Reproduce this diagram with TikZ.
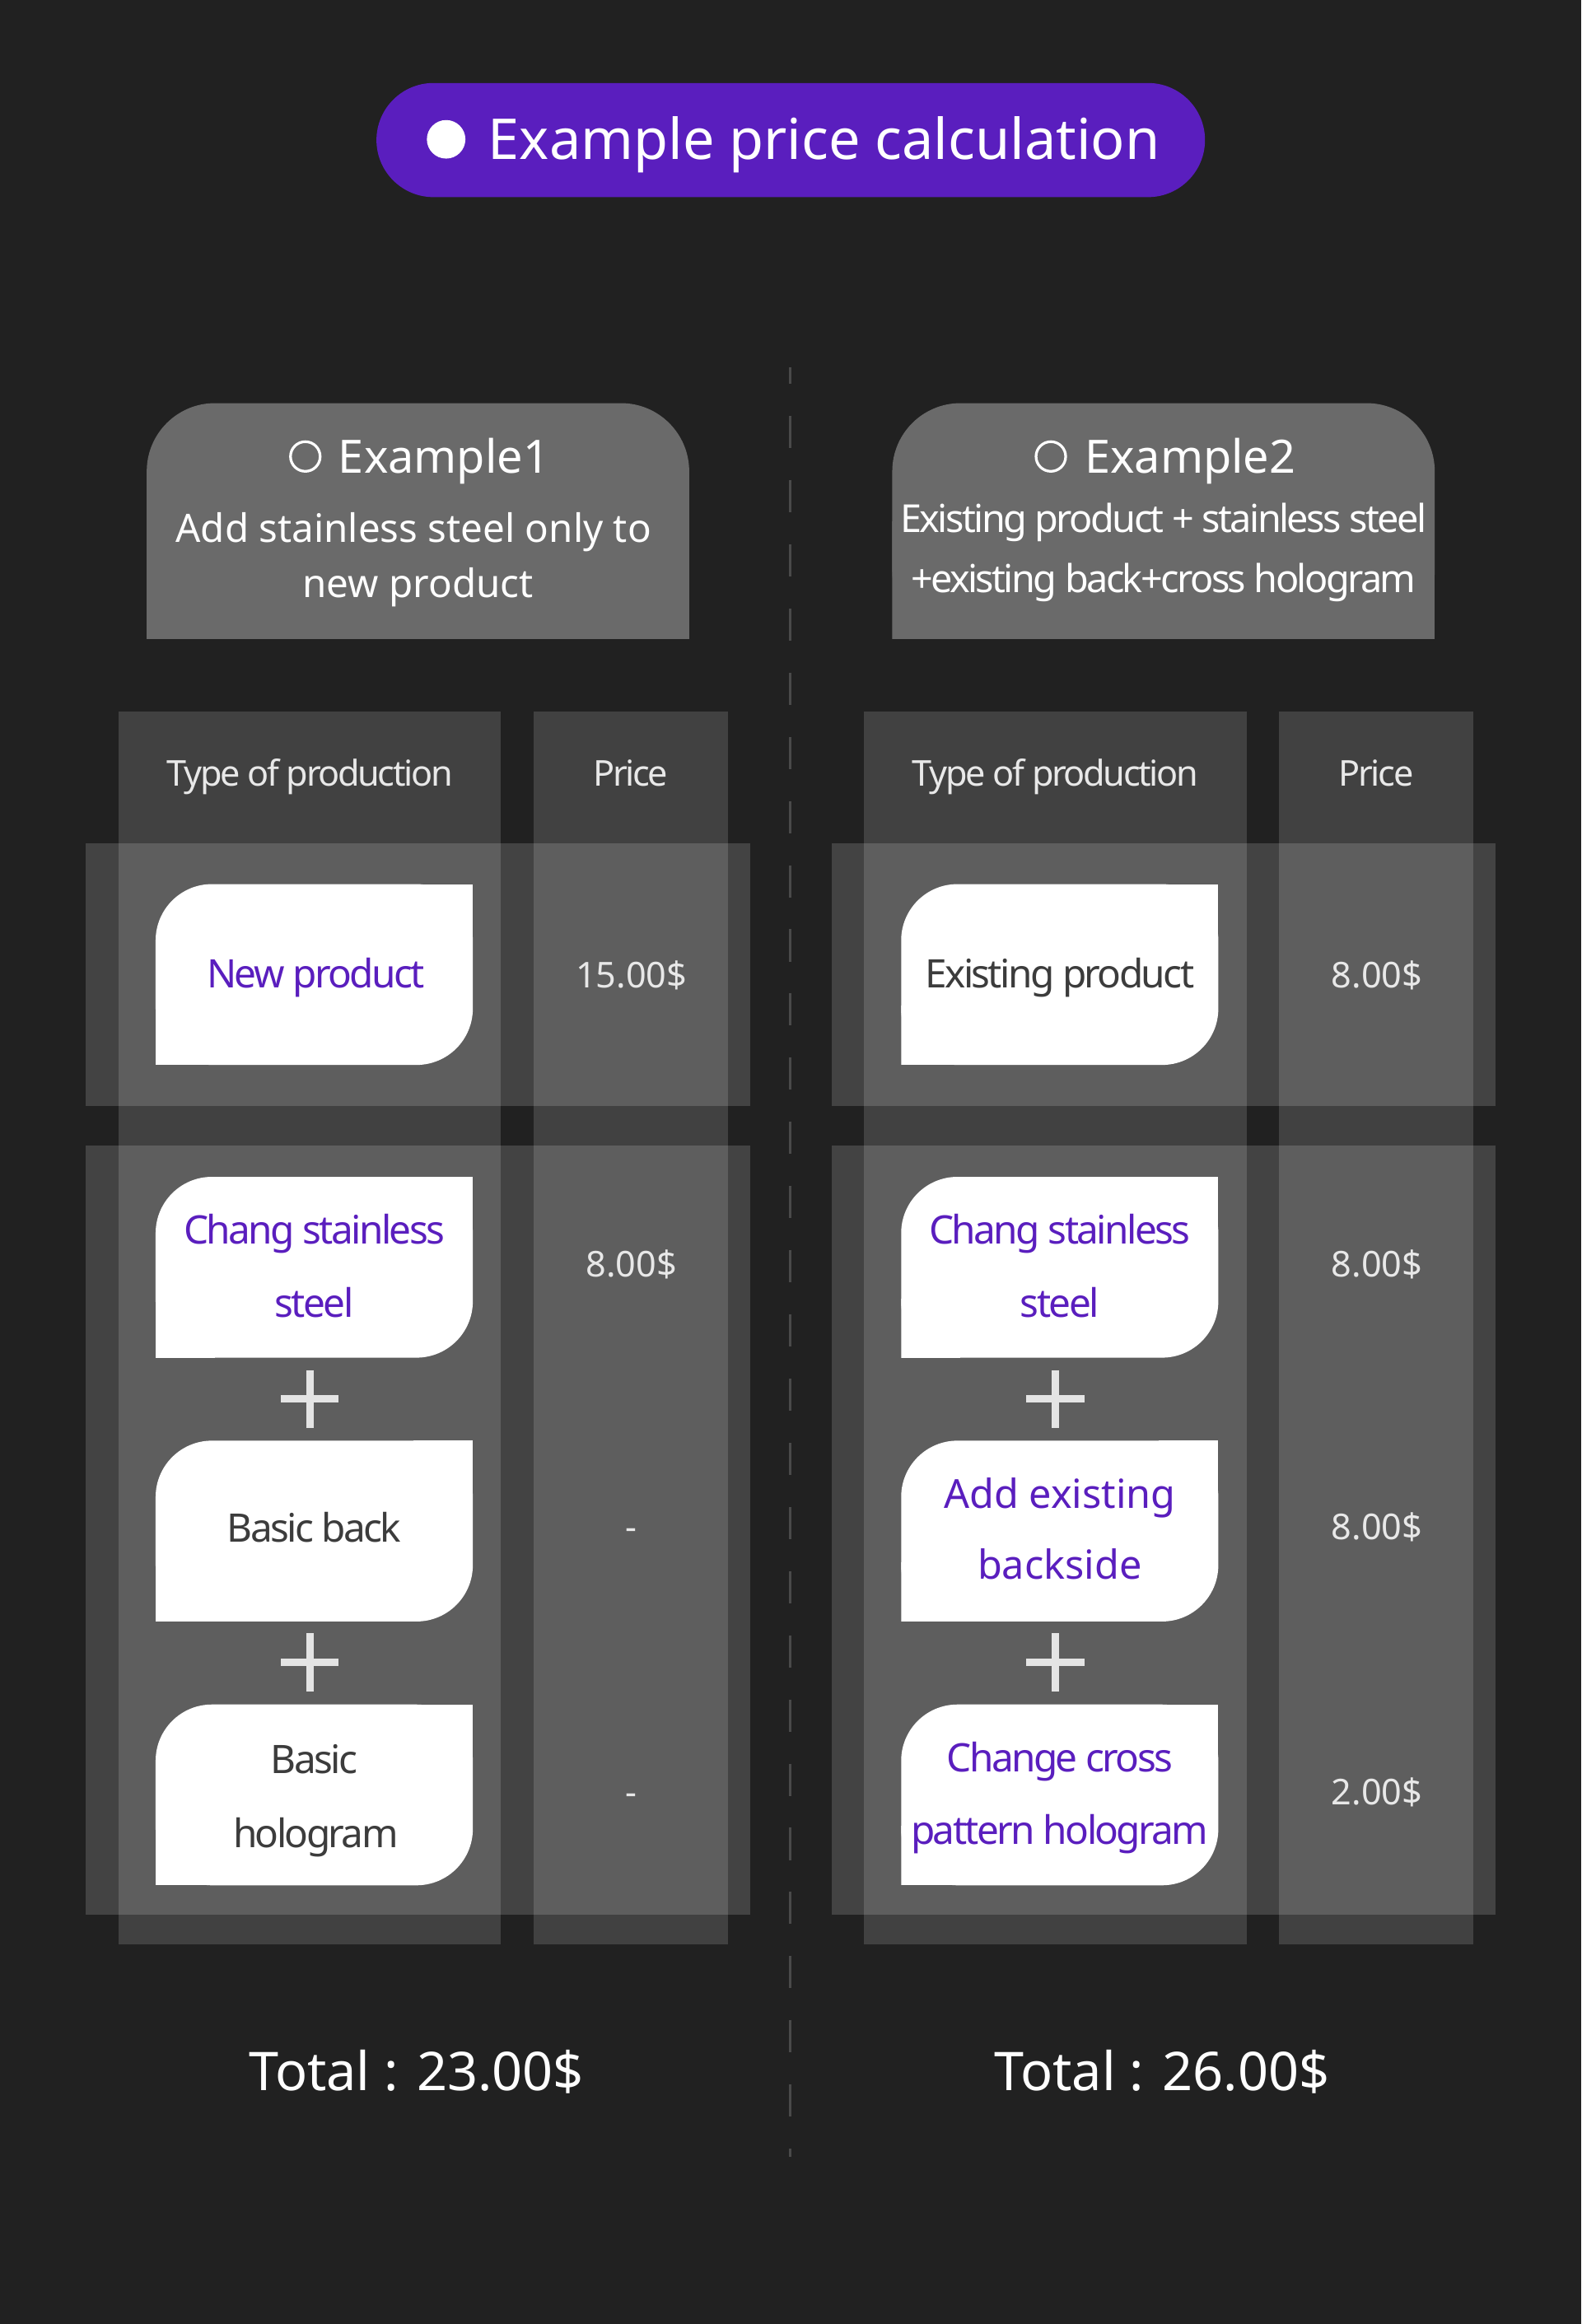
\documentclass[tikz,border=0pt]{standalone}
\usepackage{fontspec}
\setmainfont{Noto Sans}
\newfontfamily\tightf[LetterSpace=-5.5]{Noto Sans}
\definecolor{bg}{HTML}{212121}
\definecolor{pill}{HTML}{5A1EBE}
\definecolor{exgray}{HTML}{6A6A6A}
\definecolor{colgray}{HTML}{414141}
\definecolor{dtext}{HTML}{3C3C3C}
\definecolor{ltext}{HTML}{E8E8E8}
\definecolor{dashc}{HTML}{4A4A4A}
\definecolor{plusc}{HTML}{E4E4E4}
\tikzset{
  wbox/.style={rectangle, inner sep=0pt, minimum width=214pt, minimum height=122pt,
    path picture={
      \fill[white, rounded corners=38pt] (path picture bounding box.south west) rectangle (path picture bounding box.north east);
      \fill[white] (path picture bounding box.north east) rectangle ++(-40pt,-40pt);
      \fill[white] (path picture bounding box.south west) rectangle ++(40pt,40pt);
    }},
  exbox/.style={rectangle, inner sep=0pt, minimum width=366pt, minimum height=159pt,
    path picture={
      \fill[exgray, rounded corners=46pt] (path picture bounding box.south west) rectangle (path picture bounding box.north east);
      \fill[exgray] (path picture bounding box.south west) rectangle (path picture bounding box.east);
    }},
  txt/.style={anchor=base, inner sep=0pt},
  boxtxt/.style={txt, font=\tightf\fontsize{26.5}{30}\selectfont},
  purp/.style={boxtxt, text=pill},
  dark/.style={boxtxt, text=dtext},
  hdr/.style={txt, text=ltext, font=\tightf\fontsize{24}{28}\selectfont},
  price/.style={txt, text=ltext, font=\fontsize{24}{28}\selectfont},
  extxt/.style={txt, text=white, font=\fontsize{26.4}{30}\selectfont},
  extight/.style={txt, text=white, font=\tightf\fontsize{26}{30}\selectfont},
  extitle/.style={txt, text=white, font=\fontsize{31}{36}\selectfont},
  total/.style={txt, text=white, font=\fontsize{36}{40}\selectfont},
  plusmark/.style={plusc, line width=5pt},
  colfill/.style={fill=colgray},
  bandfill/.style={fill=white, opacity=0.155},
}
\begin{document}
\begin{tikzpicture}[x=1pt,y=-1pt]
\fill[bg] (0,0) rectangle (1067,1568);
\useasboundingbox (0,0) rectangle (1067,1568);

% title
\node[fill=pill, rounded corners=38.5pt, minimum width=559pt, minimum height=77pt, inner sep=0pt] (title) at (533.5,94.5) {};
\fill[white] (301,94) circle[radius=13pt];
\node[txt, text=white, font=\fontsize{38}{46}\selectfont] (ttl) at (556,107.5) {Example price calculation};

% divider
\coordinate (dtop) at (533,248);
\coordinate (dbot) at (533,1455);
\draw[dashc, line width=1.6pt, dash pattern=on 21.7pt off 21.6pt, dash phase=10.7pt] (dtop) -- (dbot);

% example boxes
\node[exbox] (ex1) at (282,351.5) {};
\node[exbox] (ex2) at (785,351.5) {};
\draw[white, line width=1.8pt] (206,308) circle[radius=10pt];
\draw[white, line width=1.8pt] (709,308) circle[radius=10pt];
\node[extitle] (ex1t) at (299.5,319) {Example1};
\node[extitle] (ex2t) at (803,319) {Example2};
\node[extxt] (ex1a) at (279,366) {Add stainless steel only to};
\node[extxt] (ex1b) at (282,403) {new product};
\node[extight] (ex2a) at (785,359) {Existing product + stainless steel};
\node[extight] (ex2b) at (785,400) {+existing back+cross hologram};

% columns and bands
\foreach \dx in {0,503}{
  \path[colfill] (80+\dx,480) rectangle (338+\dx,1312);
  \path[colfill] (360+\dx,480) rectangle (491+\dx,1312);
  \path[bandfill] (58+\dx,569) rectangle (506+\dx,746);
  \path[bandfill] (58+\dx,773) rectangle (506+\dx,1292);
}

% headers
\node[hdr] (h1) at (209,530.6) {Type of production};
\node[hdr] (h2) at (425.5,530.6) {Price};
\node[hdr] (h3) at (712,530.6) {Type of production};
\node[hdr] (h4) at (928.5,530.6) {Price};

% left boxes
\node[wbox] (l1) at (212,657.5) {};
\node[wbox] (l2) at (212,855) {};
\node[wbox] (l3) at (212,1033) {};
\node[wbox] (l4) at (212,1211) {};
\node[purp] at (213,666.5) {New product};
\node[purp] at (212,839.5) {Chang stainless};
\node[purp] at (212,888.5) {steel};
\node[dark] at (212,1040.5) {Basic back};
\node[dark] at (212,1196.5) {Basic};
\node[dark] at (213,1246.5) {hologram};
\draw[plusmark] (189.5,944) -- (228.5,944) (209,924.5) -- (209,963.5);
\draw[plusmark] (189.5,1121.5) -- (228.5,1121.5) (209,1102) -- (209,1141);

% left prices
\node[price] at (426,666.6) {15.00\$};
\node[price] at (426,861.6) {8.00\$};
\node[price] at (426,1038.6) {-};
\node[price] at (426,1217.6) {-};

% right boxes
\node[wbox] (r1) at (715,657.5) {};
\node[wbox] (r2) at (715,855) {};
\node[wbox] (r3) at (715,1033) {};
\node[wbox] (r4) at (715,1211) {};
\node[dark] at (715,666.5) {Existing product};
\node[purp] at (715,839.5) {Chang stainless};
\node[purp] at (715,888.5) {steel};
\node[txt, text=pill, font=\fontsize{27}{30}\selectfont] at (715,1017.5) {Add existing};
\node[txt, text=pill, font=\fontsize{27}{30}\selectfont] at (715,1065.5) {backside};
\node[purp] at (715,1195.5) {Change cross};
\node[purp] at (715,1244.5) {pattern hologram};
\draw[plusmark] (692.5,944) -- (731.5,944) (712,924.5) -- (712,963.5);
\draw[plusmark] (692.5,1121.5) -- (731.5,1121.5) (712,1102) -- (712,1141);

% right prices
\node[price] at (929,666.6) {8.00\$};
\node[price] at (929,861.6) {8.00\$};
\node[price] at (929,1038.6) {8.00\$};
\node[price] at (929,1217.6) {2.00\$};

% totals
\node[total] (t1) at (281,1410.5) {Total : 23.00\$};
\node[total] (t2) at (784,1410.5) {Total : 26.00\$};
\end{tikzpicture}
\end{document}
